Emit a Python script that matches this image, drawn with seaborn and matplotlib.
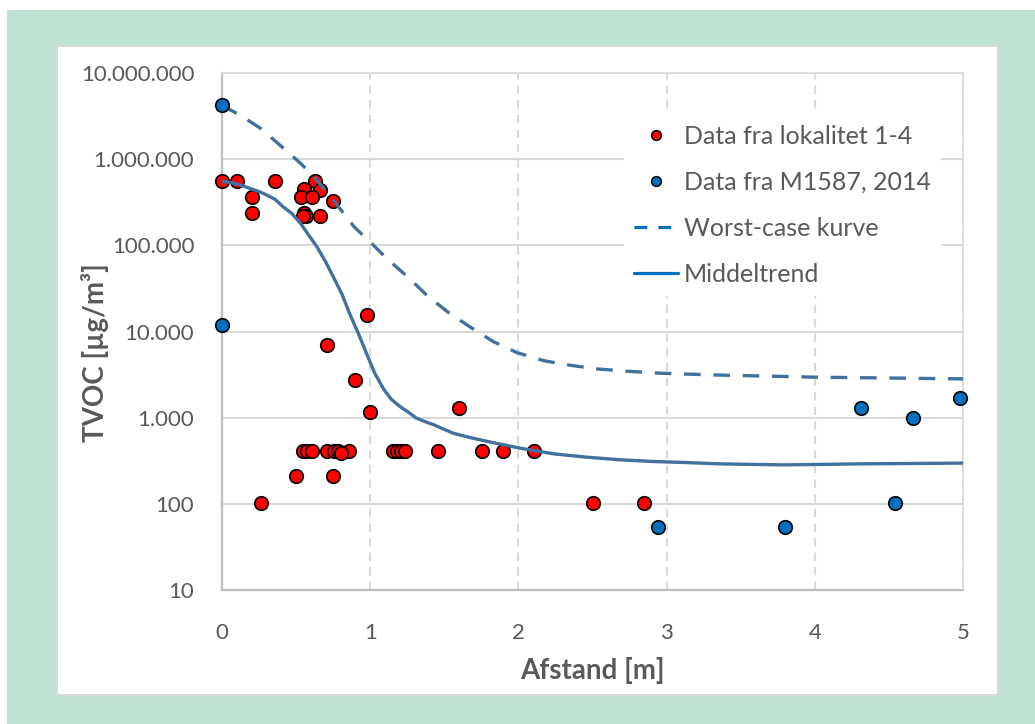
import numpy as np
import pandas as pd
import matplotlib
matplotlib.use("Agg")
import matplotlib.pyplot as plt
import seaborn as sns
from matplotlib.patches import Rectangle
from matplotlib.lines import Line2D
from matplotlib.ticker import FuncFormatter, LogLocator, MultipleLocator, NullFormatter

# data
red_x = [0.00, 0.10, 0.20, 0.20, 0.36, 0.63, 0.55, 0.66, 0.53, 0.61, 0.75, 0.55, 0.57, 0.545, 0.66,
         0.98, 0.71, 0.90, 1.00,
         0.545, 0.576, 0.607, 0.706, 0.755, 0.783, 0.855, 0.80, 1.152, 1.179, 1.21, 1.237, 1.455,
         1.754, 1.896, 2.105,
         0.50, 0.75, 0.26, 1.60, 2.50, 2.85]
red_y = [560000, 560000, 360000, 240000, 560000, 560000, 450000, 440000, 360000, 360000, 330000, 240000, 220000, 220000, 220000,
         15500, 6900, 2700, 1150,
         410, 410, 410, 410, 410, 410, 410, 390, 410, 410, 410, 410, 410,
         410, 410, 410,
         210, 210, 103, 1300, 103, 103]

blue_x = [0.00, 0.00, 2.94, 3.80, 4.31, 4.54, 4.66, 4.98]
blue_y = [4200000, 12000, 54, 54, 1300, 102, 980, 1700]

worst_x = [0, 0.12, 0.26, 0.39, 0.53, 0.62, 0.75, 0.89, 1.02, 1.11, 1.25, 1.38, 1.52, 1.67,
           1.83, 1.99, 2.17, 2.33, 2.53, 2.73, 2.96, 3.29, 4.01, 5.0]
worst_y = [4200000, 3260000, 2280000, 1460000, 895000, 627000, 337000, 165000, 101000, 70800,
           43400, 26600, 17000, 11400, 7640, 5690, 4590, 4100, 3680, 3460, 3280, 3140, 2950, 2820]

trend_x = [0, 0.05, 0.12, 0.19, 0.25, 0.30, 0.36, 0.41, 0.47, 0.53, 0.58, 0.64, 0.70, 0.75,
           0.81, 0.86, 0.92, 0.98, 1.03, 1.09, 1.14, 1.20, 1.26, 1.31, 1.37, 1.43, 1.50,
           1.56, 1.67, 1.79, 1.90, 2.01, 2.24, 2.46, 2.69, 2.91, 3.14, 3.36, 3.79, 4.30, 5.0]
trend_y = [550000, 540000, 505000, 457000, 420000, 385000, 340000, 282000, 235000, 180000,
           135000, 96600, 64000, 43400, 27000, 16300, 9500, 5300, 3300, 2150, 1650, 1350, 1150,
           990, 900, 825, 730, 660, 590, 530, 485, 443, 380, 348, 324, 310, 301, 291, 283, 291, 297]

labels = ["Data fra lokalitet 1-4", "Data fra M1587, 2014", "Worst-case kurve", "Middeltrend"]

sns.set_theme(style="white")
plt.rcParams["font.family"] = ["Lato", "DejaVu Sans"]
text_col = "#595959"
line_col = "#41719c"

fig = plt.figure(figsize=(10.35, 7.24), dpi=100, facecolor="white")
# green frame and white panel
fig.patches.append(Rectangle((7 / 1035, 0), 1 - 7 / 1035, 1 - 10 / 724, transform=fig.transFigure,
                             facecolor="#c0e2d3", edgecolor="none", zorder=-10))
fig.patches.append(Rectangle((57 / 1035, 29 / 724), 941 / 1035, 649 / 724, transform=fig.transFigure,
                             facecolor="white", edgecolor="#d9d9d9", linewidth=1.5, zorder=-9))

ax = fig.add_axes([222 / 1035, 134 / 724, 741 / 1035, 517 / 724])
ax.set_facecolor("none")

red_df = pd.DataFrame({"x": red_x, "y": red_y})
blue_df = pd.DataFrame({"x": blue_x, "y": blue_y})
worst_df = pd.DataFrame({"x": worst_x, "y": worst_y})
trend_df = pd.DataFrame({"x": trend_x, "y": trend_y})

sns.scatterplot(data=red_df, x="x", y="y", ax=ax, color="#ff0000", edgecolor="black",
                linewidth=1.2, s=95, clip_on=False, zorder=3, legend=False)
sns.lineplot(data=worst_df, x="x", y="y", ax=ax, color=line_col, linewidth=2.4,
             zorder=4, legend=False, estimator=None, sort=False)
ax.lines[-1].set_dashes((5, 3.8))
sns.lineplot(data=trend_df, x="x", y="y", ax=ax, color=line_col, linewidth=2.4,
             zorder=4, legend=False, estimator=None, sort=False)
sns.scatterplot(data=blue_df, x="x", y="y", ax=ax, color="#0070c0", edgecolor="black",
                linewidth=1.2, s=95, clip_on=False, zorder=5, legend=False)

ax.set_yscale("log")
ax.set_ylim(10, 1e7)
ax.set_xlim(0, 5)

ax.yaxis.set_major_locator(LogLocator(base=10, numticks=10))
ax.yaxis.set_minor_locator(LogLocator(base=10, subs=np.arange(2, 10), numticks=20))
ax.yaxis.set_minor_formatter(NullFormatter())
ax.yaxis.set_major_formatter(FuncFormatter(lambda v, p: f"{int(round(v)):,}".replace(",", ".")))
ax.xaxis.set_major_locator(MultipleLocator(1))
ax.xaxis.set_minor_locator(MultipleLocator(0.5))

ax.tick_params(axis="both", which="both", direction="in", color="#bfbfbf", width=1.2,
               labelcolor=text_col, labelsize=16)
ax.tick_params(axis="y", which="major", length=7, pad=20)
ax.tick_params(axis="y", which="minor", length=5)
ax.tick_params(axis="x", which="major", length=4, pad=24)
ax.tick_params(axis="x", which="minor", length=4)

ax.grid(True, axis="y", which="major", color="#d9d9d9", linewidth=1.5)
ax.grid(True, axis="x", which="major", color="#d9d9d9", linewidth=1.5, linestyle=(0, (4, 3)))
ax.set_axisbelow(True)

for side in ["left", "bottom"]:
    ax.spines[side].set_color("#bfbfbf")
    ax.spines[side].set_linewidth(1.6)
for side in ["top", "right"]:
    ax.spines[side].set_color("#d9d9d9")
    ax.spines[side].set_linewidth(1.2)

ax.set_xlabel("Afstand [m]", fontsize=20, fontweight="bold", color=text_col)
ax.set_ylabel("TVOC [µg/m³]", fontsize=20, fontweight="bold", color=text_col)
ax.xaxis.set_label_coords(0.5, -0.13)
ax.yaxis.set_label_coords(-0.152, 0.46)

handles = [
    Line2D([], [], linestyle="none", marker="o", markersize=7, markerfacecolor="#ff0000",
           markeredgecolor="black", markeredgewidth=1.1),
    Line2D([], [], linestyle="none", marker="o", markersize=7, markerfacecolor="#0070c0",
           markeredgecolor="black", markeredgewidth=1.1),
    Line2D([], [], color="#0070c0", linewidth=2.3, dashes=(4, 3.5)),
    Line2D([], [], color="#0070c0", linewidth=2.3),
]
leg = ax.legend(handles, labels, loc="upper left", bbox_to_anchor=(624 / 1035, 1 - 115 / 724),
                bbox_transform=fig.transFigure, fontsize=18, frameon=True, facecolor="white",
                edgecolor="none", framealpha=1, handlelength=1.75, handletextpad=0.25,
                labelspacing=0.92, borderpad=0.4, borderaxespad=0, fancybox=False)
for t in leg.get_texts():
    t.set_color(text_col)

fig.savefig("out.png", dpi=100)
